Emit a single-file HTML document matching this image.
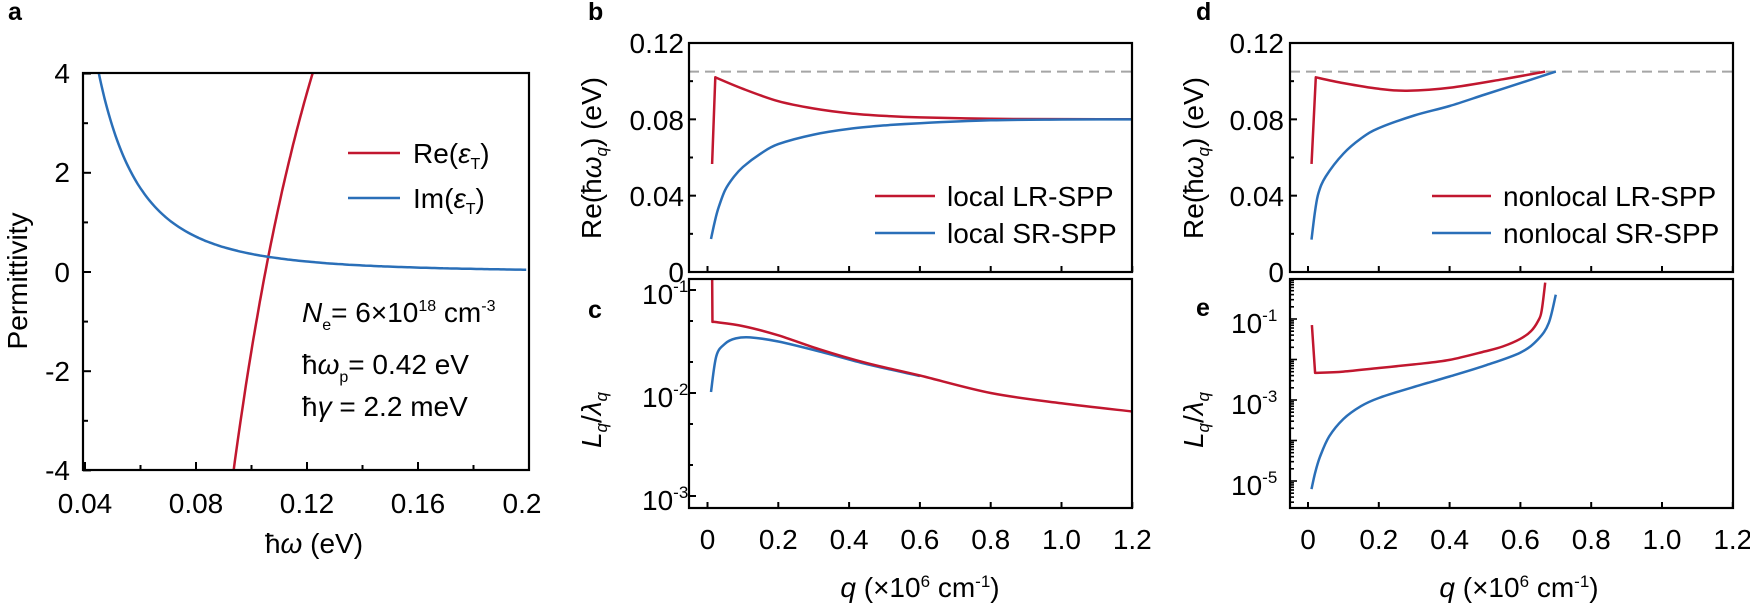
<!DOCTYPE html>
<html><head><meta charset="utf-8"><style>
html,body{margin:0;padding:0;background:#fff;}
svg{display:block;font-family:"Liberation Sans",sans-serif;}
</style></head><body>
<svg id="s" width="1750" height="604" viewBox="0 0 1750 604" xmlns="http://www.w3.org/2000/svg">
<g font-weight="bold" font-size="25">
<text x="8" y="20">a</text><text x="588" y="20">b</text><text x="588" y="318">c</text>
<text x="1196" y="20">d</text><text x="1196" y="316">e</text>
</g>
<g font-size="28" text-anchor="middle">
<text x="85" y="513">0.04</text><text x="196" y="513">0.08</text><text x="307" y="513">0.12</text><text x="418" y="513">0.16</text><text x="522" y="513">0.2</text>
<text x="314" y="553">ħ<tspan font-style="italic">ω</tspan> (eV)</text>
</g>
<g font-size="28" text-anchor="end">
<text x="70" y="83">4</text><text x="70" y="182">2</text><text x="70" y="282">0</text><text x="70" y="381">-2</text><text x="70" y="480">-4</text>
</g>
<text font-size="28" text-anchor="middle" transform="translate(27,281) rotate(-90)">Permittivity</text>
<line x1="348" y1="153" x2="400" y2="153" stroke="#c1172f" stroke-width="2.5"/>
<line x1="348" y1="198" x2="400" y2="198" stroke="#2a6fb8" stroke-width="2.5"/>
<text x="413" y="163" font-size="28">Re(<tspan font-style="italic">ε</tspan><tspan font-size="16" dy="6">T</tspan><tspan dy="-6">)</tspan></text>
<text x="413" y="208" font-size="28">Im(<tspan font-style="italic">ε</tspan><tspan font-size="16" dy="6">T</tspan><tspan dy="-6">)</tspan></text>
<g font-size="28">
<text x="302" y="322"><tspan font-style="italic">N</tspan><tspan font-size="16" dy="8">e</tspan><tspan dy="-8">= 6×10</tspan><tspan font-size="16" dy="-11">18</tspan><tspan dy="11"> cm</tspan><tspan font-size="16" dy="-11">-3</tspan></text>
<text x="302" y="374">ħ<tspan font-style="italic">ω</tspan><tspan font-size="16" dy="8">p</tspan><tspan dy="-8">= 0.42 eV</tspan></text>
<text x="302" y="416">ħ<tspan font-style="italic">γ</tspan>   = 2.2 meV</text>
</g>
<g font-size="28" text-anchor="end">
<text x="684" y="53">0.12</text><text x="684" y="130">0.08</text><text x="684" y="206">0.04</text><text x="684" y="282">0</text>
<text x="1284" y="53">0.12</text><text x="1284" y="130">0.08</text><text x="1284" y="206">0.04</text><text x="1284" y="282">0</text>
</g>
<g font-size="28">
<text x="642" y="304">10<tspan font-size="17" dy="-12">-1</tspan></text>
<text x="642" y="407">10<tspan font-size="17" dy="-12">-2</tspan></text>
<text x="642" y="510">10<tspan font-size="17" dy="-12">-3</tspan></text>
<text x="1231" y="333">10<tspan font-size="17" dy="-12">-1</tspan></text>
<text x="1231" y="414">10<tspan font-size="17" dy="-12">-3</tspan></text>
<text x="1231" y="495">10<tspan font-size="17" dy="-12">-5</tspan></text>
</g>
<g font-size="28" text-anchor="middle">
<text transform="translate(601,158) rotate(-90)">Re(ħ<tspan font-style="italic">ω</tspan><tspan font-style="italic" font-size="17" dy="6">q</tspan><tspan dy="-6">) (eV)</tspan></text>
<text transform="translate(601,420) rotate(-90)"><tspan font-style="italic">L</tspan><tspan font-style="italic" font-size="17" dy="6">q</tspan><tspan dy="-6">/</tspan><tspan font-style="italic">λ</tspan><tspan font-style="italic" font-size="17" dy="6">q</tspan></text>
<text transform="translate(1203,158) rotate(-90)">Re(ħ<tspan font-style="italic">ω</tspan><tspan font-style="italic" font-size="17" dy="6">q</tspan><tspan dy="-6">) (eV)</tspan></text>
<text transform="translate(1203,420) rotate(-90)"><tspan font-style="italic">L</tspan><tspan font-style="italic" font-size="17" dy="6">q</tspan><tspan dy="-6">/</tspan><tspan font-style="italic">λ</tspan><tspan font-style="italic" font-size="17" dy="6">q</tspan></text>
<text x="920" y="597"><tspan font-style="italic">q</tspan> (×10<tspan font-size="17" dy="-10">6</tspan><tspan dy="10"> cm</tspan><tspan font-size="17" dy="-10">-1</tspan><tspan dy="10">)</tspan></text>
<text x="1519" y="597"><tspan font-style="italic">q</tspan> (×10<tspan font-size="17" dy="-10">6</tspan><tspan dy="10"> cm</tspan><tspan font-size="17" dy="-10">-1</tspan><tspan dy="10">)</tspan></text>
</g>
<g font-size="28" text-anchor="middle" id="xl"></g>
<line x1="875" y1="196" x2="935" y2="196" stroke="#c1172f" stroke-width="2.5"/>
<line x1="875" y1="233" x2="935" y2="233" stroke="#2a6fb8" stroke-width="2.5"/>
<text x="947" y="206" font-size="28">local LR-SPP</text>
<text x="947" y="243" font-size="28">local SR-SPP</text>
<line x1="1432" y1="196" x2="1491" y2="196" stroke="#c1172f" stroke-width="2.5"/>
<line x1="1432" y1="233" x2="1491" y2="233" stroke="#2a6fb8" stroke-width="2.5"/>
<text x="1503" y="206" font-size="28">nonlocal LR-SPP</text>
<text x="1503" y="243" font-size="28">nonlocal SR-SPP</text>
<g id="g"></g>
</svg>
<script>
var NS="http://www.w3.org/2000/svg",G=document.getElementById('g'),XL=document.getElementById('xl');
function el(t,a,p){var e=document.createElementNS(NS,t);for(var k in a)e.setAttribute(k,a[k]);(p||G).appendChild(e);return e;}
function cr(P){var d='M'+P[0][0].toFixed(1)+','+P[0][1].toFixed(1);for(var i=0;i<P.length-1;i++){var p0=P[i-1]||P[i],p1=P[i],p2=P[i+1],p3=P[i+2]||p2;var c1=[p1[0]+(p2[0]-p0[0])/6,p1[1]+(p2[1]-p0[1])/6],c2=[p2[0]-(p3[0]-p1[0])/6,p2[1]-(p3[1]-p1[1])/6];d+='C'+c1[0].toFixed(1)+','+c1[1].toFixed(1)+' '+c2[0].toFixed(1)+','+c2[1].toFixed(1)+' '+p2[0].toFixed(1)+','+p2[1].toFixed(1);}return d;}
function line(d,c,clip){var a={d:d,fill:'none',stroke:c,'stroke-width':2.5,'stroke-linejoin':'round'};if(clip)a['clip-path']='url(#'+clip+')';el('path',a);}
var defs=el('defs',{});
function clip(id,x,y,w,h){var c=el('clipPath',{id:id},defs);el('rect',{x:x,y:y,width:w,height:h},c);}
var R='#c1172f',B='#2a6fb8';
clip('ca',83,73,446,397);
var Xa=function(v){return 85+(v-0.04)/0.04*111},Ya=function(p){return 272-p*49.6};
var pr=[],pb=[];
for(var v=0.09;v<=0.125;v+=0.001){pr.push([Xa(v),Ya(15.43-0.1701/(v*v))]);}
for(var v=0.043;v<=0.2005;v+=0.002){pb.push([Xa(v),Ya(3.645e-4/(v*v*v))]);}
line(cr(pr),R,'ca');line(cr(pb),B,'ca');
el('rect',{x:83,y:73,width:446,height:397,fill:'none',stroke:'#000','stroke-width':2.2});
for(var v=0.04;v<=0.2001;v+=0.02){var x=Xa(v);el('line',{x1:x,y1:470,x2:x,y2:(Math.round(v*100)%4==0?462:465),stroke:'#000','stroke-width':2});}
for(var p=-4;p<=4;p++){var y=Ya(p);el('line',{x1:83,y1:y,x2:(p%2==0?91:88),y2:y,stroke:'#000','stroke-width':2});}
function panels(x0,X0,id,top,bot){
 var X=function(q){return X0+q*354};
 var Yb=function(w){return 272-w/0.12*229};
 clip(id+'1',x0,43,443,229);clip(id+'2',x0,279,443,229);
 el('line',{x1:x0,y1:Yb(0.105),x2:x0+443,y2:Yb(0.105),stroke:'#a5a5a5','stroke-width':2,'stroke-dasharray':'10,6'});
 top(X,Yb,id+'1');bot(X,id+'2');
 el('rect',{x:x0,y:43,width:443,height:229,fill:'none',stroke:'#000','stroke-width':2.2});
 el('rect',{x:x0,y:279,width:443,height:229,fill:'none',stroke:'#000','stroke-width':2.2});
 for(var i=0;i<=6;i++){var x=X(i*0.2);
  el('line',{x1:x,y1:272,x2:x,y2:266,stroke:'#000','stroke-width':2});
  el('line',{x1:x,y1:508,x2:x,y2:502,stroke:'#000','stroke-width':2});
  var t=el('text',{x:x,y:549},XL);t.textContent=(i==0?'0':(i*0.2).toFixed(1));}
 for(var i=0;i<=6;i++){var y=Yb(i*0.02);el('line',{x1:x0,y1:y,x2:x0+(i%2==0?7:4),y2:y,stroke:'#000','stroke-width':2});}
 return X;
}
function pts(A,X,Y){return A.map(function(a){return [X(a[0]),Y(a[1])]});}
var Yc=function(l){return 290-(l+1)*103},Ye=function(l){return 319-(l+1)*40.5};
panels(689,707.5,'cb',function(X,Y,c){
 var r=pts([[0.022,0.102],[0.1,0.096],[0.2,0.0895],[0.3,0.0857],[0.4,0.0832],[0.5,0.0818],[0.6,0.081],[0.8,0.0803],[1.0,0.0801],[1.25,0.080]],X,Y);
 line('M'+X(0.013)+','+Y(0.0566)+'L'+cr(r).slice(1),R,c);
 line(cr(pts([[0.01,0.0173],[0.02,0.026],[0.03,0.033],[0.05,0.043],[0.075,0.050],[0.1,0.055],[0.15,0.062],[0.2,0.067],[0.3,0.072],[0.4,0.075],[0.5,0.0768],[0.6,0.078],[0.8,0.0795],[1.0,0.0799],[1.25,0.080]],X,Y)),B,c);
},function(X,c){
 line(cr(pts([[0.01,-1.99],[0.025,-1.64],[0.05,-1.52],[0.08,-1.47],[0.12,-1.46],[0.2,-1.5],[0.32,-1.6],[0.45,-1.72],[0.6,-1.835]],X,Yc)),B,c);
 var r=pts([[0.02,-1.31],[0.1,-1.35],[0.2,-1.44],[0.32,-1.58],[0.45,-1.71],[0.6,-1.83],[0.8,-2.0],[1.0,-2.1],[1.2,-2.18],[1.25,-2.2]],X,Yc);
 line('M'+X(0.013)+',270L'+X(0.014)+','+Yc(-1.31)+'L'+cr(r).slice(1),R,c);
 for(var d=-3;d<=-1;d++){[1,2,5].forEach(function(m){var y=Yc(d+Math.log10(m));if(y<279||y>508)return;el('line',{x1:689,y1:y,x2:689+(m==1?7:4),y2:y,stroke:'#000','stroke-width':2});});}
});
panels(1290,1308,'de',function(X,Y,c){
 var r=pts([[0.022,0.102],[0.1,0.099],[0.2,0.096],[0.28,0.095],[0.4,0.0965],[0.55,0.101],[0.67,0.105]],X,Y);
 line('M'+X(0.01)+','+Y(0.0566)+'L'+cr(r).slice(1),R,c);
 line(cr(pts([[0.01,0.017],[0.02,0.032],[0.03,0.0416],[0.05,0.05],[0.1,0.062],[0.15,0.070],[0.2,0.0754],[0.3,0.082],[0.4,0.087],[0.5,0.093],[0.6,0.099],[0.7,0.105]],X,Y)),B,c);
},function(X,c){
 var r=pts([[0.02,-2.33],[0.1,-2.3],[0.2,-2.21],[0.3,-2.12],[0.4,-2.01],[0.5,-1.8],[0.55,-1.68],[0.6,-1.49],[0.63,-1.3],[0.65,-1.05],[0.66,-0.8],[0.67,-0.1]],X,Ye);
 line('M'+X(0.011)+','+Ye(-1.15)+'L'+cr(r).slice(1),R,c);
 line(cr(pts([[0.01,-5.2],[0.02,-4.8],[0.034,-4.4],[0.06,-3.9],[0.1,-3.47],[0.15,-3.15],[0.2,-2.95],[0.29,-2.7],[0.4,-2.42],[0.5,-2.15],[0.6,-1.83],[0.65,-1.5],[0.68,-1.1],[0.7,-0.4]],X,Ye)),B,c);
 for(var d=-6;d<=0;d++){for(var m=1;m<10;m++){var y=Ye(d+Math.log10(m));if(y<279||y>508)continue;el('line',{x1:1290,y1:y,x2:1290+(m==1?7:4),y2:y,stroke:'#000','stroke-width':1.6});}}
});
</script>
</body></html>
